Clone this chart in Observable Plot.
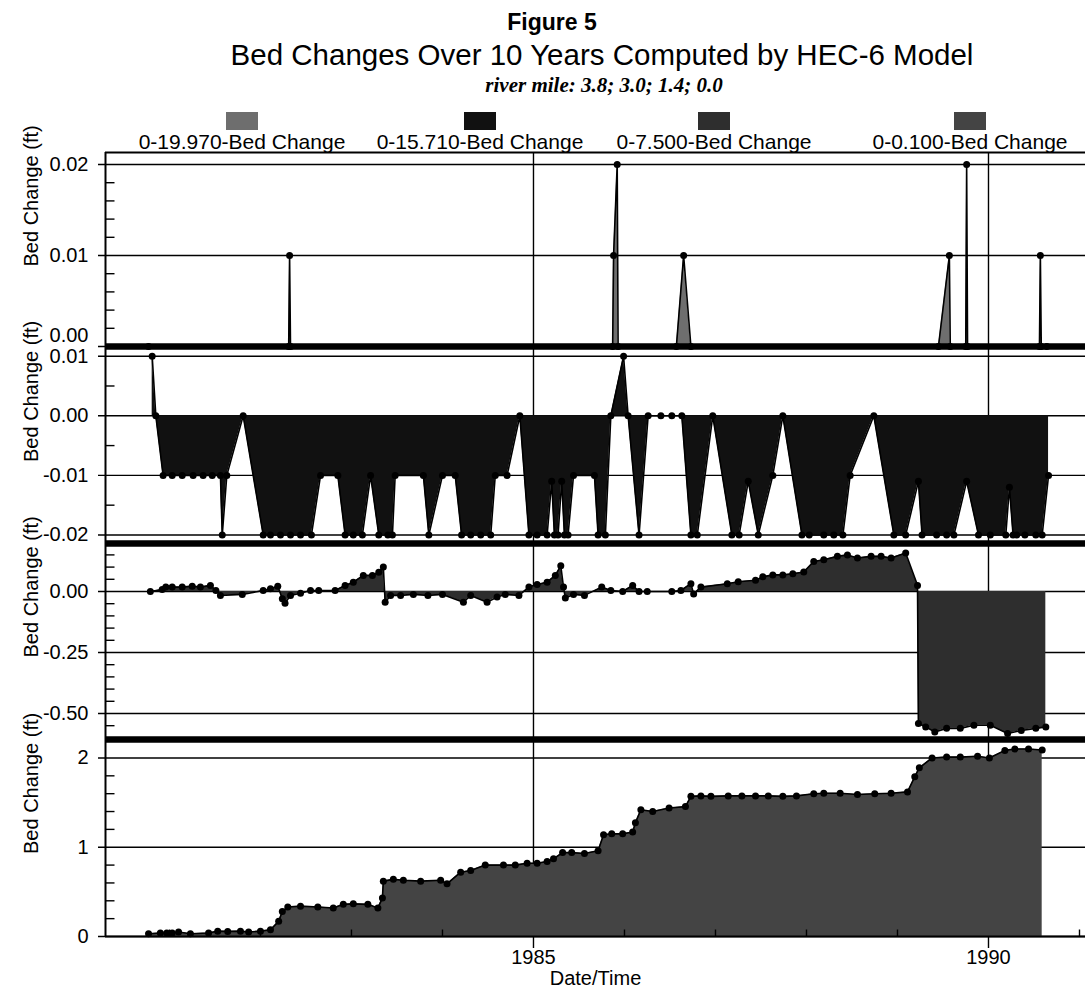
<!DOCTYPE html>
<html><head><meta charset="utf-8">
<script src="https://cdn.jsdelivr.net/npm/d3@7"></script>
<script src="https://cdn.jsdelivr.net/npm/@observablehq/plot@0.6"></script>
<style>
body{margin:0;background:#fff;}
#root{position:relative;width:1085px;height:994px;overflow:hidden;background:#fff;font-family:"Liberation Sans",Arial,sans-serif;color:#000;}
.t{position:absolute;white-space:nowrap;transform:translate(-50%,-50%);line-height:1;}
.sq{position:absolute;width:32px;height:18px;}
.panel{position:absolute;left:0;}
</style></head><body><div id="root"></div>
<script>
// ---------- texts ----------
const figureLabel = "Figure 5";
const titleText = "Bed Changes Over 10 Years Computed by HEC-6 Model";
const subtitleText = "river mile: 3.8; 3.0; 1.4; 0.0";
const seriesNames = ["0-19.970-Bed Change", "0-15.710-Bed Change", "0-7.500-Bed Change", "0-0.100-Bed Change"];
const seriesColors = ["#6e6e6e", "#111111", "#2e2e2e", "#444444"];
const yTitle = "Bed Change (ft)";
const xTitle = "Date/Time";

// ---------- x axis ----------
const xDomain = [1980.297, 1991.066];
const xMajorTicks = [1985, 1990];
const xMinorTicks = [1981, 1982, 1983, 1984, 1986, 1987, 1988, 1989, 1991];

// ---------- series (decimal year, bed change ft) ----------
const p1Data = [[1980.77,0],[1982.31,0],[1982.32,0.01],[1982.33,0],[1985.87,0],[1985.88,0.01],[1985.92,0.02],[1985.93,0],
[1986.57,0],[1986.65,0.01],[1986.73,0],[1989.45,0],[1989.57,0.01],[1989.58,0],[1989.75,0],[1989.76,0.02],[1989.77,0],
[1990.56,0],[1990.57,0.01],[1990.58,0],[1990.64,0]];

const p2Data = [[1980.81,0.01],[1980.85,0],[1980.93,-0.01],[1981.03,-0.01],[1981.14,-0.01],[1981.26,-0.01],[1981.37,-0.01],
[1981.47,-0.01],[1981.56,-0.01],[1981.58,-0.02],[1981.63,-0.01],[1981.81,0],[1982.03,-0.02],[1982.11,-0.02],[1982.22,-0.02],
[1982.33,-0.02],[1982.44,-0.02],[1982.56,-0.02],[1982.66,-0.01],[1982.85,-0.01],[1982.93,-0.02],[1983.02,-0.02],[1983.12,-0.02],
[1983.21,-0.01],[1983.30,-0.02],[1983.40,-0.02],[1983.45,-0.02],[1983.48,-0.01],[1983.79,-0.01],[1983.85,-0.02],[1984.00,-0.01],
[1984.14,-0.01],[1984.21,-0.02],[1984.31,-0.02],[1984.42,-0.02],[1984.53,-0.02],[1984.58,-0.01],[1984.71,-0.01],[1984.85,0],
[1984.95,-0.02],[1985.04,-0.02],[1985.15,-0.02],[1985.20,-0.011],[1985.23,-0.02],[1985.27,-0.02],[1985.31,-0.011],[1985.34,-0.02],
[1985.38,-0.02],[1985.44,-0.01],[1985.67,-0.01],[1985.71,-0.02],[1985.79,-0.02],[1985.85,0],[1985.99,0.01],[1986.04,0],
[1986.16,-0.02],[1986.26,0],[1986.40,0],[1986.52,0],[1986.63,0],[1986.73,-0.02],[1986.80,-0.02],[1986.97,0],[1987.18,-0.02],
[1987.26,-0.02],[1987.36,-0.011],[1987.47,-0.02],[1987.63,-0.01],[1987.74,0],[1987.95,-0.02],[1988.03,-0.02],[1988.19,-0.02],
[1988.30,-0.02],[1988.40,-0.02],[1988.48,-0.01],[1988.74,0],[1988.96,-0.02],[1989.09,-0.02],[1989.23,-0.011],[1989.27,-0.02],
[1989.43,-0.02],[1989.54,-0.02],[1989.62,-0.02],[1989.76,-0.011],[1989.89,-0.02],[1990.02,-0.02],[1990.19,-0.02],[1990.23,-0.012],
[1990.27,-0.02],[1990.31,-0.02],[1990.40,-0.02],[1990.52,-0.02],[1990.59,-0.02],[1990.66,-0.01]];

const p3Data = [[1980.79,0.0],[1980.92,0.008],[1980.96,0.018],[1981.03,0.018],[1981.14,0.018],[1981.25,0.022],[1981.34,0.018],
[1981.45,0.025],[1981.51,0.004],[1981.56,-0.016],[1981.80,-0.012],[1982.03,0.004],[1982.11,0.011],[1982.19,0.022],[1982.24,-0.03],
[1982.27,-0.048],[1982.33,-0.016],[1982.44,-0.007],[1982.55,0.004],[1982.64,0.004],[1982.82,0.004],[1982.93,0.025],[1983.02,0.038],
[1983.13,0.066],[1983.23,0.066],[1983.30,0.079],[1983.35,0.10],[1983.37,-0.044],[1983.43,-0.016],[1983.54,-0.016],[1983.68,-0.012],
[1983.84,-0.016],[1984.00,-0.012],[1984.23,-0.044],[1984.31,-0.016],[1984.49,-0.044],[1984.60,-0.023],[1984.69,-0.012],[1984.84,-0.016],
[1984.95,0.018],[1985.04,0.029],[1985.15,0.038],[1985.24,0.066],[1985.30,0.105],[1985.33,0.018],[1985.35,-0.027],[1985.44,-0.012],
[1985.56,-0.016],[1985.75,0.018],[1985.85,0.004],[1985.98,0.0],[1986.09,0.025],[1986.16,0.0],[1986.25,0.0],[1986.52,0.0],
[1986.62,0.004],[1986.73,0.032],[1986.76,-0.01],[1986.84,0.018],[1987.13,0.032],[1987.25,0.04],[1987.44,0.046],[1987.52,0.06],
[1987.63,0.068],[1987.74,0.068],[1987.85,0.073],[1987.97,0.08],[1988.08,0.123],[1988.19,0.13],[1988.34,0.144],[1988.45,0.15],
[1988.56,0.137],[1988.71,0.144],[1988.82,0.144],[1988.93,0.137],[1989.09,0.158],[1989.22,0.025],[1989.23,-0.541],[1989.31,-0.555],
[1989.41,-0.576],[1989.54,-0.561],[1989.69,-0.561],[1989.84,-0.548],[1990.02,-0.548],[1990.21,-0.582],[1990.36,-0.57],
[1990.52,-0.561],[1990.63,-0.555]];

const p4Data = [[1980.77,0.03],[1980.90,0.04],[1980.97,0.04],[1981.03,0.04],[1981.10,0.05],[1981.23,0.03],[1981.43,0.04],
[1981.53,0.06],[1981.64,0.057],[1981.78,0.06],[1981.87,0.05],[1982.00,0.06],[1982.11,0.075],[1982.20,0.17],[1982.24,0.28],
[1982.30,0.33],[1982.44,0.34],[1982.63,0.33],[1982.80,0.32],[1982.91,0.36],[1983.02,0.366],[1983.18,0.36],[1983.29,0.32],
[1983.34,0.43],[1983.35,0.62],[1983.46,0.64],[1983.57,0.63],[1983.76,0.62],[1983.98,0.63],[1984.05,0.59],[1984.20,0.72],
[1984.31,0.74],[1984.47,0.80],[1984.67,0.80],[1984.80,0.80],[1984.93,0.82],[1985.04,0.82],[1985.15,0.84],[1985.22,0.87],
[1985.32,0.94],[1985.42,0.94],[1985.56,0.93],[1985.71,0.96],[1985.77,1.14],[1985.86,1.15],[1985.98,1.15],[1986.09,1.17],
[1986.12,1.275],[1986.18,1.42],[1986.31,1.40],[1986.49,1.44],[1986.67,1.455],[1986.73,1.57],[1986.84,1.575],[1986.95,1.57],
[1987.14,1.575],[1987.29,1.575],[1987.44,1.575],[1987.58,1.575],[1987.74,1.57],[1987.89,1.575],[1988.08,1.60],[1988.19,1.605],
[1988.37,1.605],[1988.56,1.59],[1988.75,1.60],[1988.93,1.605],[1989.11,1.62],[1989.19,1.79],[1989.24,1.89],[1989.38,2.00],
[1989.54,2.01],[1989.69,2.01],[1989.88,2.02],[1990.01,2.00],[1990.18,2.085],[1990.29,2.10],[1990.44,2.10],[1990.59,2.09]];

// ---------- y ticks ----------
const p1Major = [0, 0.01, 0.02], p1Labels = ["0.00", "0.01", "0.02"];
const p1Minor = [0.002, 0.004, 0.006, 0.008, 0.012, 0.014, 0.016, 0.018];
const p2Major = [0.01, 0, -0.01, -0.02], p2Labels = ["0.01", "0.00", "-0.01", "-0.02"];
const p2Minor = [0.005, -0.005, -0.015];
const p3Major = [0, -0.25, -0.5], p3Labels = ["0.00", "-0.25", "-0.50"];
const p3Minor = [0.15, 0.1, 0.05, -0.05, -0.1, -0.15, -0.2, -0.3, -0.35, -0.4, -0.45, -0.55];
const p4Major = [2, 1, 0], p4Labels = ["2", "1", "0"];
const p4Minor = [1.8, 1.6, 1.4, 1.2, 0.8, 0.6, 0.4, 0.2];

// ---------- layout ----------
const root = document.getElementById("root");
function addText(txt, cx, cy, css) {
  const d = document.createElement("div");
  d.className = "t"; d.textContent = txt;
  d.style.left = cx + "px"; d.style.top = cy + "px";
  Object.assign(d.style, css || {});
  root.appendChild(d);
}
addText(figureLabel, 552, 22, {fontSize: "23px", fontWeight: "bold"});
addText(titleText, 602, 55, {fontSize: "29.5px"});
addText(subtitleText, 604, 85, {fontSize: "21px", fontFamily: '"Liberation Serif","Times New Roman",serif', fontStyle: "italic", fontWeight: "bold"});
const legendCenters = [242, 480, 714, 970];
seriesNames.forEach((name, i) => {
  const s = document.createElement("div");
  s.className = "sq"; s.style.left = (legendCenters[i] - 16) + "px"; s.style.top = "112px";
  s.style.background = seriesColors[i];
  root.appendChild(s);
  addText(name, legendCenters[i], 141, {fontSize: "21px"});
});

const tickRight = {draw(ctx) { ctx.moveTo(0, 0); ctx.lineTo(9, 0); }};
const tickUp = {draw(ctx) { ctx.moveTo(0, 0); ctx.lineTo(0, -7); }};

function makePanel(cfg) {
  const pts = cfg.data.map(([t, v]) => ({t, v}));
  const labs = cfg.majors.map((v, i) => ({v, s: cfg.labels[i]}));
  const normal = labs.filter(d => cfg.shiftValue === undefined || d.v !== cfg.shiftValue);
  const shifted = labs.filter(d => cfg.shiftValue !== undefined && d.v === cfg.shiftValue);
  const marks = [
    Plot.ruleY(cfg.majors, {stroke: "#000", strokeWidth: 1.4, insetLeft: -7}),
    Plot.ruleX(xMajorTicks, {stroke: "#000", strokeWidth: 1.4, insetBottom: cfg.last ? -12 : 0}),
    Plot.dot(cfg.minors, {y: d => d, frameAnchor: "left", symbol: tickRight, fill: "none", stroke: "#000", strokeWidth: 1.4}),
    Plot.areaY(pts, {x: "t", y1: 0, y2: "v", fill: cfg.fill, curve: "linear"}),
    Plot.line(pts, {x: "t", y: "v", stroke: "#000", strokeWidth: 1.6}),
    Plot.dot(pts, {x: "t", y: "v", r: 3.5, fill: "#000"}),
    Plot.ruleX([xDomain[0]], {stroke: "#000", strokeWidth: 2}),
    Plot.text(normal, {y: "v", text: "s", frameAnchor: "left", textAnchor: "end", dx: -17, fontSize: 20}),
    Plot.text(shifted, {y: "v", text: "s", frameAnchor: "left", textAnchor: "end", dx: -17, dy: -11, fontSize: 20}),
    Plot.text([yTitle], {text: d => d, frameAnchor: "left", rotate: -90, dx: -74, dy: 16, fontSize: 20})
  ];
  if (cfg.band !== undefined) marks.push(Plot.ruleY([cfg.band], {stroke: "#000", strokeWidth: 6.5}));
  if (cfg.topBorder) marks.push(Plot.ruleY([cfg.domain[1]], {stroke: "#000", strokeWidth: 2}));
  if (cfg.last) {
    marks.push(Plot.ruleY([0], {stroke: "#000", strokeWidth: 2}));
    marks.push(Plot.dot(xMinorTicks, {x: d => d, frameAnchor: "bottom", symbol: tickUp, fill: "none", stroke: "#000", strokeWidth: 1.4}));
    marks.push(Plot.text(xMajorTicks, {x: d => d, text: d => String(d), frameAnchor: "bottom", dy: 27, fontSize: 20}));
    marks.push(Plot.text([xTitle], {text: d => d, frameAnchor: "bottom", dy: 48, fontSize: 20}));
  }
  const svg = Plot.plot({
    width: 1085, height: cfg.height + (cfg.last ? 58 : 0),
    marginLeft: 105, marginRight: 0, marginTop: 0, marginBottom: cfg.last ? 58 : 0,
    x: {domain: xDomain, axis: null},
    y: {domain: cfg.domain, axis: null},
    style: {overflow: "visible", background: "transparent", fontFamily: '"Liberation Sans",Arial,sans-serif', fontSize: "20px", color: "#000"},
    marks
  });
  const wrap = document.createElement("div");
  wrap.className = "panel"; wrap.style.top = cfg.top + "px";
  wrap.appendChild(svg);
  root.appendChild(wrap);
}

makePanel({data: p1Data, domain: [-0.00022, 0.02132], top: 152, height: 196, majors: p1Major, labels: p1Labels, minors: p1Minor, fill: seriesColors[0], band: 0, topBorder: true, shiftValue: 0});
makePanel({data: p2Data, domain: [-0.02143, 0.01129], top: 348, height: 195, majors: p2Major, labels: p2Labels, minors: p2Minor, fill: seriesColors[1], band: -0.02143});
makePanel({data: p3Data, domain: [-0.6066, 0.1967], top: 543, height: 196, majors: p3Major, labels: p3Labels, minors: p3Minor, fill: seriesColors[2], band: -0.6066});
makePanel({data: p4Data, domain: [0, 2.207], top: 739, height: 197, majors: p4Major, labels: p4Labels, minors: p4Minor, fill: seriesColors[3], last: true});
</script></body></html>
